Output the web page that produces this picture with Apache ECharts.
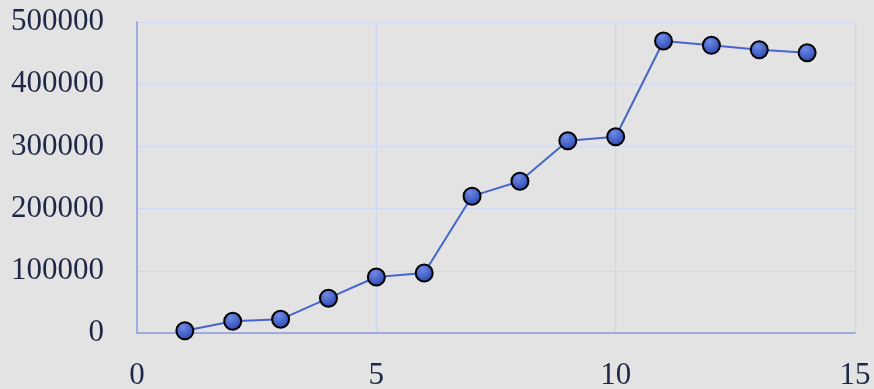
<!DOCTYPE html>
<html><head><meta charset="utf-8">
<script src="https://cdn.jsdelivr.net/npm/echarts@6/dist/echarts.min.js"></script>
<style>html,body{margin:0;padding:0;background:#e3e3e3;}#c{width:874px;height:389px;}</style>
</head><body><div id="c"></div>
<script>
const xValues = [1,2,3,4,5,6,7,8,9,10,11,12,13,14];
const yValues = [3500,19000,22000,56000,90000,96500,220000,244000,309000,315500,469500,462500,455500,450500];
const chart = echarts.init(document.getElementById('c'));
const labelFont = {fontFamily:'"Liberation Serif", serif', fontSize:31, color:'#1e2747', formatter:v=>String(v)};
chart.setOption({
  backgroundColor:'#e3e3e3',
  animation:false,
  grid:{left:137,right:19,top:22,bottom:56,outerBoundsMode:'none',containLabel:false},
  xAxis:{type:'value',min:0,max:15,interval:5,
    axisLine:{show:true,onZero:false,lineStyle:{color:'#8b9be0',width:1.5}},
    axisTick:{show:false},
    splitLine:{show:true,lineStyle:{color:'#d0d7f2',width:1.2}},
    axisLabel:Object.assign({margin:27},labelFont)},
  yAxis:{type:'value',min:0,max:500000,interval:100000,
    axisLine:{show:true,lineStyle:{color:'#8b9be0',width:1.5}},
    axisTick:{show:false},
    splitLine:{show:true,lineStyle:{color:'#d0d7f2',width:1.2}},
    axisLabel:Object.assign({margin:33},labelFont)},
  series:[{type:'line',data:xValues.map((x,i)=>[x,yValues[i]]),
    symbol:'circle',symbolSize:17,
    lineStyle:{color:'#4565cf',width:2},
    itemStyle:{borderColor:'#000',borderWidth:2,
      color:new echarts.graphic.RadialGradient(0.4,0.3,0.7,[{offset:0,color:'#6f8ae6'},{offset:1,color:'#2a47b0'}])}
  }]
});
</script></body></html>
